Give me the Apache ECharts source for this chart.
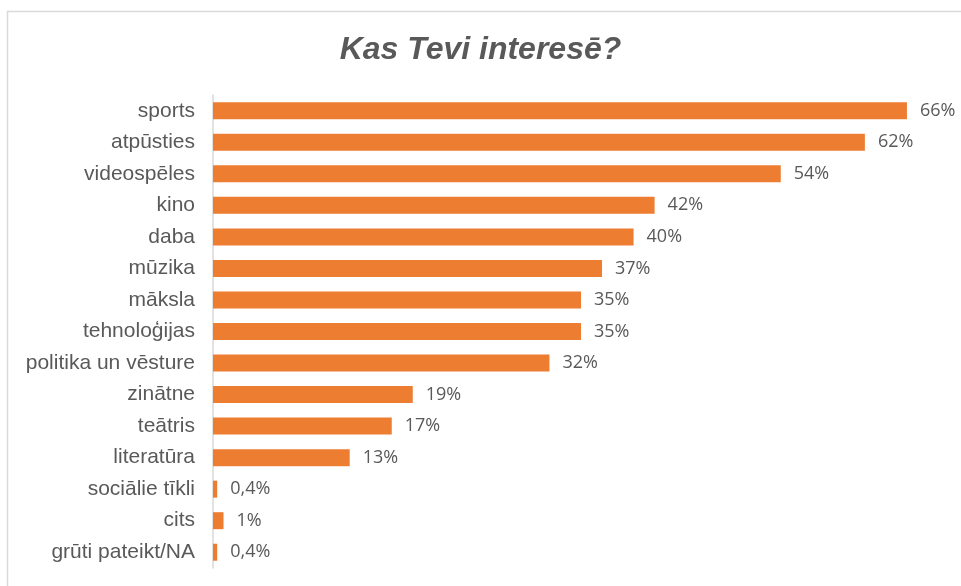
<!DOCTYPE html>
<html>
<head>
<meta charset="utf-8">
<script src="https://cdn.jsdelivr.net/npm/echarts@6/dist/echarts.min.js"></script>
<style>
html, body { margin: 0; padding: 0; background: #fff; }
#chart { width: 961px; height: 586px; }
</style>
</head>
<body>
<div id="chart"></div>
<script>
var categories = ['sports', 'atpūsties', 'videospēles', 'kino', 'daba', 'mūzika', 'māksla', 'tehnoloģijas',
	'politika un vēsture', 'zinātne', 'teātris', 'literatūra', 'sociālie tīkli', 'cits', 'grūti pateikt/NA'];
var values = [66, 62, 54, 42, 40, 37, 35, 35, 32, 19, 17, 13, 0.4, 1, 0.4];

var myChart = echarts.init(document.getElementById('chart'));

var option = {
	backgroundColor: '#fff',
	animation: false,
	title: {
		text: 'Kas Tevi interesē?',
		left: 'center',
		top: 29,
		textStyle: {
			fontFamily: 'Liberation Sans',
			fontStyle: 'italic',
			fontWeight: 'bold',
			fontSize: 32,
			color: '#595959'
		}
	},
	graphic: [{
		type: 'rect',
		shape: { x: 7.5, y: 11.5, width: 960, height: 600 },
		style: { fill: 'none', stroke: '#d9d9d9', lineWidth: 1.5 },
		silent: true
	}],
	grid: {
		left: 213,
		right: 12,
		top: 95,
		bottom: 18
	},
	xAxis: {
		type: 'value',
		min: 0,
		max: 70,
		show: false
	},
	yAxis: {
		type: 'category',
		inverse: true,
		data: categories,
		axisLine: { show: true, lineStyle: { color: '#d9d9d9', width: 1.5 } },
		axisTick: { show: false },
		axisLabel: {
			margin: 18,
			fontFamily: 'Liberation Sans',
			fontSize: 21,
			color: '#595959'
		}
	},
	series: [{
		type: 'bar',
		data: values,
		barWidth: 17,
		itemStyle: { color: '#ED7D31' },
		label: {
			show: true,
			position: 'right',
			distance: 13,
			fontFamily: 'Open Sans',
			fontSize: 18,
			color: '#595959',
			formatter: function (p) {
				return String(p.value).replace('.', ',') + '%';
			}
		}
	}]
};

myChart.setOption(option);
</script>
</body>
</html>
